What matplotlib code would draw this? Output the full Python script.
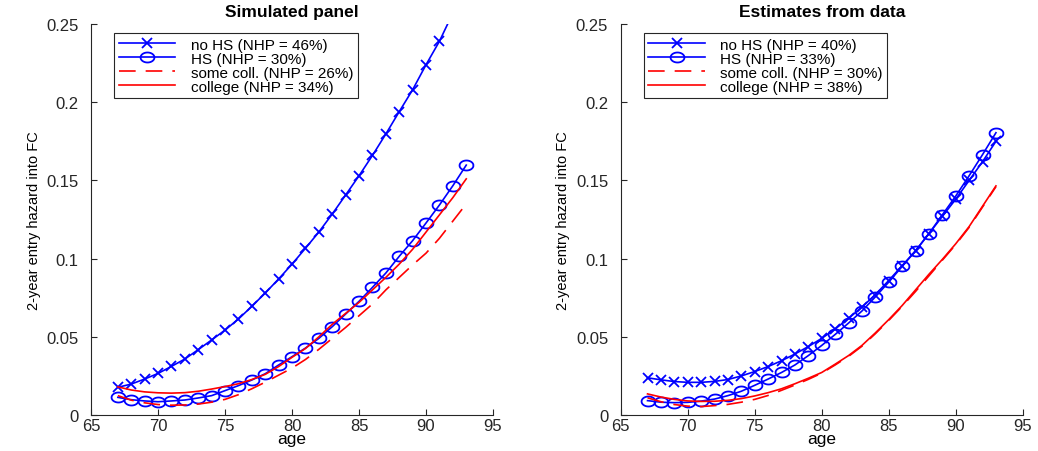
import numpy as np
import matplotlib
matplotlib.use("Agg")
import matplotlib.pyplot as plt

plt.rcParams['font.family'] = ['Liberation Sans', 'DejaVu Sans']

# ages on x axis
ages = list(range(67, 94))

# Simulated panel
sim_nohs = [0.0177, 0.0198, 0.023, 0.0266, 0.0311, 0.0358, 0.0418, 0.048, 0.0543, 0.0614,
            0.0695, 0.078, 0.087, 0.0965, 0.1066, 0.117, 0.1285, 0.1407, 0.153, 0.166,
            0.1797, 0.194, 0.208, 0.224, 0.239, 0.257, 0.275]
sim_hs = [0.0113, 0.0098, 0.009, 0.0085, 0.009, 0.0096, 0.0109, 0.0124, 0.0156, 0.0188,
          0.0224, 0.0264, 0.032, 0.0373, 0.0428, 0.049, 0.0565, 0.0646, 0.0727, 0.0816,
          0.0908, 0.1015, 0.1115, 0.1228, 0.1343, 0.1466, 0.1598]
sim_somecoll = [0.0124, 0.0095, 0.0078, 0.0067, 0.0063, 0.0064, 0.0070, 0.0082, 0.0100, 0.0130,
                0.0168, 0.021, 0.0255, 0.030, 0.0355, 0.042, 0.049, 0.056, 0.0635, 0.071,
                0.080, 0.088, 0.096, 0.1035, 0.113, 0.124, 0.135]
sim_college = [0.018, 0.0160, 0.0148, 0.0142, 0.0140, 0.0143, 0.0152, 0.0166, 0.0182, 0.020,
               0.0227, 0.0260, 0.031, 0.0369, 0.0425, 0.050, 0.058, 0.065, 0.072, 0.080,
               0.088, 0.0965, 0.106, 0.117, 0.128, 0.139, 0.151]

# Estimates from data
est_nohs = [0.0238, 0.0225, 0.0214, 0.0209, 0.0209, 0.0215, 0.0227, 0.0250, 0.0278, 0.031,
            0.0347, 0.039, 0.0438, 0.049, 0.055, 0.0618, 0.069, 0.077, 0.086, 0.0955,
            0.105, 0.116, 0.127, 0.138, 0.150, 0.162, 0.175]
est_hs = [0.0092, 0.0082, 0.0079, 0.0081, 0.0089, 0.0102, 0.0124, 0.0152, 0.019, 0.023,
          0.0272, 0.032, 0.038, 0.0445, 0.0515, 0.0588, 0.0665, 0.0755, 0.085, 0.095,
          0.105, 0.116, 0.128, 0.140, 0.153, 0.1665, 0.1805]
est_somecoll = [0.0110, 0.0085, 0.0067, 0.0057, 0.0054, 0.0060, 0.0068, 0.0082, 0.0100, 0.0125,
                0.0158, 0.0192, 0.0228, 0.0268, 0.032, 0.0375, 0.044, 0.052, 0.0605, 0.0695,
                0.079, 0.089, 0.099, 0.109, 0.120, 0.133, 0.146]
est_college = [0.0135, 0.0115, 0.0100, 0.0090, 0.0087, 0.0088, 0.0094, 0.0105, 0.0122, 0.0143,
               0.0168, 0.020, 0.0235, 0.0272, 0.0325, 0.038, 0.0445, 0.0525, 0.061, 0.0700,
               0.080, 0.090, 0.0995, 0.1095, 0.1205, 0.1335, 0.1465]

sim_labels = ["no HS (NHP = 46%)", "HS (NHP = 30%)", "some coll. (NHP = 26%)", "college (NHP = 34%)"]
est_labels = ["no HS (NHP = 40%)", "HS (NHP = 33%)", "some coll. (NHP = 30%)", "college (NHP = 38%)"]

# slightly flattened circle, like the stretched original
t = np.linspace(0, 2 * np.pi, 40)
ellipse = np.column_stack([np.cos(t), 0.72 * np.sin(t)])

fig = plt.figure(figsize=(10.38, 4.52), dpi=100)
ax1 = fig.add_axes([0.0877, 0.0796, 0.3873, 0.865])
ax2 = fig.add_axes([0.598, 0.0796, 0.3873, 0.865])


def panel(ax, title, nohs, hs, somecoll, college, labels):
    ax.plot(ages, nohs, color='blue', lw=1.2, marker='x', ms=7, mew=1.3, label=labels[0])
    ax.plot(ages, hs, color='blue', lw=1.2, marker=ellipse, ms=10, mfc='none', mew=1.3,
            label=labels[1])
    ax.plot(ages, somecoll, color='red', lw=1.2, ls=(0, (10, 6)), label=labels[2])
    ax.plot(ages, college, color='red', lw=1.2, label=labels[3])
    ax.set_xlim(65, 95)
    ax.set_ylim(0, 0.25)
    ax.set_xticks([65, 70, 75, 80, 85, 90, 95])
    ax.set_yticks([0, 0.05, 0.1, 0.15, 0.2, 0.25])
    ax.set_yticklabels(["0", "0.05", "0.1", "0.15", "0.2", "0.25"])
    ax.tick_params(direction='in', length=4, labelsize=12, colors='#262626', width=0.8)
    ax.tick_params(axis='y', pad=9)
    ax.tick_params(axis='x', pad=2)
    for s in ['top', 'right']:
        ax.spines[s].set_visible(False)
    for s in ['left', 'bottom']:
        ax.spines[s].set_color('#262626')
        ax.spines[s].set_linewidth(0.8)
    ax.set_xlabel("age", fontsize=12.5, labelpad=-1)
    ax.set_ylabel("2-year entry hazard into FC", fontsize=10.5, labelpad=4)
    ax.set_title(title, fontsize=12.5, fontweight='bold', pad=6)
    leg = ax.legend(loc='upper left', bbox_to_anchor=(0.05, 0.985), fontsize=11,
                    handlelength=3.7, fancybox=False, framealpha=1, edgecolor='#262626',
                    borderpad=0.3, labelspacing=0.0, handletextpad=1.0, borderaxespad=0.2)
    leg.get_frame().set_linewidth(0.8)


panel(ax1, "Simulated panel", sim_nohs, sim_hs, sim_somecoll, sim_college, sim_labels)
panel(ax2, "Estimates from data", est_nohs, est_hs, est_somecoll, est_college, est_labels)

fig.savefig("out.png", dpi=100)
